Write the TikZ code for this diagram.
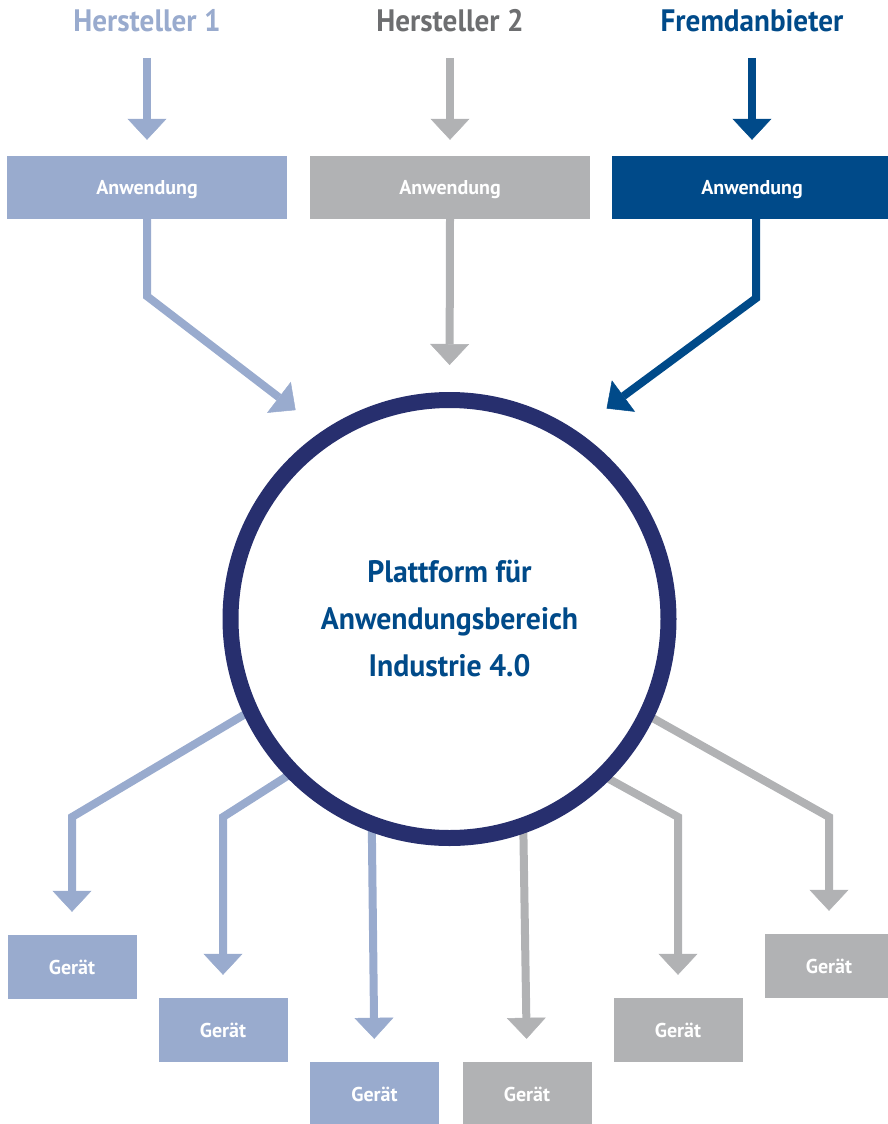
\documentclass[tikz,border=0pt]{standalone}
\usepackage{fontspec}
\setmainfont{PT Sans}
\newfontfamily\titlefont[FakeStretch=0.94]{PT Sans}
\newfontfamily\platfont[FakeStretch=0.96]{PT Sans}
\usetikzlibrary{arrows.meta,backgrounds}
\definecolor{lb}{HTML}{99ABCE}
\definecolor{gr}{HTML}{B1B2B4}
\definecolor{db}{HTML}{004A89}
\definecolor{nv}{HTML}{272F6E}
\definecolor{tg}{HTML}{6D6E70}
\begin{document}
\begin{tikzpicture}[x=1pt,y=-1pt,
  conn/.style={line width=8pt, line join=miter, -{Triangle[length=21pt,width=39pt,line width=0.5pt]}},
  appbox/.style={rectangle, minimum width=280pt, minimum height=63pt, inner sep=0pt, text depth=0pt, text=white, font=\bfseries\fontsize{20}{20}\selectfont},
  devbox/.style={rectangle, minimum width=129pt, minimum height=64pt, inner sep=0pt, text depth=0pt, text=white, font=\bfseries\fontsize{20}{20}\selectfont},
  title/.style={anchor=base, inner sep=0pt, font=\titlefont\bfseries\fontsize{31}{31}\selectfont}]
\useasboundingbox (0,0) rectangle (887,1124);
% titles
\node[title, text=lb] (t1) at (147,32) {Hersteller 1};
\node[title, text=tg] (t2) at (450,32) {Hersteller 2};
\node[title, text=db] (t3) at (752,32) {Fremdanbieter};
% application boxes
\node[appbox, fill=lb] (a1) at (147,187.5) {Anwendung};
\node[appbox, fill=gr] (a2) at (450,187.5) {Anwendung};
\node[appbox, fill=db] (a3) at (752,187.5) {Anwendung};
% platform
\node[circle, draw=nv, line width=16pt, fill=white, minimum size=438pt, inner sep=0pt,
      text=db, align=center, font=\platfont\bfseries\fontsize{31}{47}\selectfont] (circ) at (449.5,619)
      {Plattform für\\Anwendungsbereich\\Industrie 4.0};
% devices
\node[devbox, fill=lb] (gA) at (72,967) {Gerät};
\node[devbox, fill=lb] (gB) at (223,1030) {Gerät};
\node[devbox, fill=lb] (gC) at (374.5,1094) {Gerät};
\node[devbox, fill=gr] (gD) at (527,1094) {Gerät};
\node[devbox, fill=gr] (gE) at (678,1030) {Gerät};
\node[devbox, fill=gr] (gF) at (829,966) {Gerät};
% bend points
\coordinate (kA) at (72,817);
\coordinate (kB) at (223,817);
\coordinate (kE) at (678,817);
\coordinate (kF) at (829,817);
\begin{scope}[on background layer]
% top arrows
\draw[conn, lb, shorten <=26pt, shorten >=16pt] (t1.base) -- (a1.north);
\draw[conn, gr, shorten <=26pt, shorten >=16pt] (t2.base) -- (a2.north);
\draw[conn, db, shorten <=26pt, shorten >=16pt] (t3.base) -- (a3.north);
% into the platform
\draw[conn, lb, shorten >=34pt] (a1.south) -- ++(0,77) -- (circ.124.1);
\draw[conn, gr, shorten >=27pt] (a2.south) -- (circ.north);
\draw[conn, db, shorten >=37.5pt] ([xshift=4pt]a3.south) -- ++(0,79) -- (circ.56.9);
% out of the platform
\draw[conn, lb, shorten <=-14pt, shorten >=23pt] (circ.205.6) -- (kA) -- (gA.north);
\draw[conn, lb, shorten <=-14pt, shorten >=23pt] (circ.224.9) -- (kB) -- (gB.north);
\draw[conn, lb, shorten <=-14pt, shorten >=23pt] (circ.250.7) -- (gC.north);
\draw[conn, gr, shorten <=-14pt, shorten >=23pt] (circ.289.8) -- (gD.north);
\draw[conn, gr, shorten <=-14pt, shorten >=23pt] (circ.315.5) -- (kE) -- (gE.north);
\draw[conn, gr, shorten <=-14pt, shorten >=23pt] (circ.334.7) -- (kF) -- (gF.north);
\end{scope}
\end{tikzpicture}
\end{document}
